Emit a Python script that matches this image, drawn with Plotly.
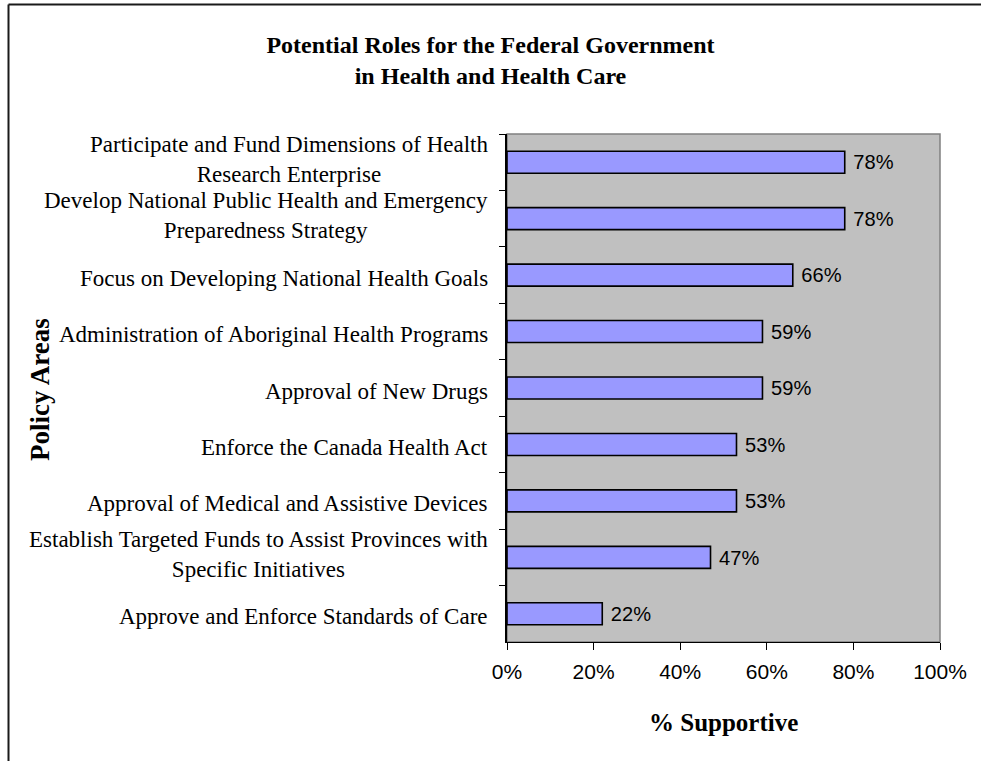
import plotly.graph_objects as go

# Survey results: share of respondents supportive of each federal role
categories = [
    "Participate and Fund Dimensions of Health<br>Research Enterprise",
    "Develop National Public Health and Emergency<br>Preparedness Strategy",
    "Focus on Developing National Health Goals",
    "Administration of Aboriginal Health Programs",
    "Approval of New Drugs",
    "Enforce the Canada Health Act",
    "Approval of Medical and Assistive Devices",
    "Establish Targeted Funds to Assist Provinces with<br>Specific Initiatives",
    "Approve and Enforce Standards of Care",
]
support_pct = [78, 78, 66, 59, 59, 53, 53, 47, 22]
x_ticks = [0, 20, 40, 60, 80, 100]
x_tick_labels = ["0%", "20%", "40%", "60%", "80%", "100%"]

W, H = 981, 761
L, R, T, B = 507, 41, 134, 119
pw, ph = W - L - R, H - T - B

SERIF = "Liberation Serif, Times New Roman, serif"
SANS = "Liberation Sans, Arial, sans-serif"

fig = go.Figure(
    go.Bar(
        x=support_pct,
        y=categories,
        orientation="h",
        marker=dict(color="#9999FF", line=dict(color="#000000", width=1.6)),
        width=0.39,
        texttemplate=" %{x}%",
        textposition="outside",
        textfont=dict(family=SANS, size=21, color="#000000"),
        cliponaxis=False,
        hoverinfo="skip",
    )
)

fig.update_layout(
    width=W,
    height=H,
    margin=dict(l=L, r=R, t=T, b=B, pad=0),
    paper_bgcolor="#FFFFFF",
    plot_bgcolor="#C0C0C0",
    showlegend=False,
    title=dict(
        text="<b>Potential Roles for the Federal Government<br>in Health and Health Care</b>",
        font=dict(family=SERIF, size=24, color="#000000"),
        x=0.5,
        xanchor="center",
        y=1 - 53 / H,
        yanchor="middle",
        yref="container",
    ),
)

fig.update_xaxes(
    range=[0, 100],
    tickvals=x_ticks,
    ticktext=x_tick_labels,
    ticks="outside",
    ticklen=7,
    tickcolor="#000000",
    ticklabelstandoff=4,
    tickfont=dict(family=SANS, size=21, color="#000000"),
    showgrid=False,
    zeroline=False,
    showline=True,
    linecolor="#000000",
    linewidth=1,
    fixedrange=True,
)

fig.update_yaxes(
    categoryorder="array",
    categoryarray=categories,
    autorange="reversed",
    tickson="boundaries",
    ticks="outside",
    ticklen=6,
    tickcolor="#000000",
    showticklabels=False,
    showgrid=False,
    zeroline=False,
    showline=True,
    linecolor="#000000",
    linewidth=1.5,
    fixedrange=True,
)

annotations = []
# Category labels: lines centred on each other, block right-aligned near the axis
for cat in categories:
    multi = "<br>" in cat
    annotations.append(dict(
        text=cat, xref="paper", yref="y", x=0, y=cat,
        xanchor="right", yanchor="middle", xshift=-17,
        yshift=3 if multi else -3,
        showarrow=False, align="center",
        font=dict(family=SERIF, size=23, color="#000000"),
    ))

# Axis titles
annotations.append(dict(
    text="<b>Policy Areas</b>", xref="paper", yref="paper",
    x=(40 - L) / pw, y=1 - (390 - T) / ph,
    xanchor="center", yanchor="middle", textangle=-90, showarrow=False,
    font=dict(family=SERIF, size=27, color="#000000"),
))
annotations.append(dict(
    text="<b>% Supportive</b>", xref="paper", yref="paper",
    x=0.5, y=-(722 - (T + ph)) / ph,
    xanchor="center", yanchor="middle", showarrow=False,
    font=dict(family=SERIF, size=25, color="#000000"),
))
fig.update_layout(annotations=annotations)

def px_x(p):
    return (p - L) / pw

def px_y(p):
    return 1 - (p - T) / ph

shapes = [
    # plot-area frame
    dict(type="rect", xref="paper", yref="paper", x0=0, x1=1, y0=0, y1=1,
         line=dict(color="#808080", width=1.5), layer="below"),
    # chart-area border (top and left edges)
    dict(type="line", xref="paper", yref="paper",
         x0=px_x(8.5), x1=px_x(W + 5), y0=px_y(4.5), y1=px_y(4.5),
         line=dict(color="#1a1a1a", width=2)),
    dict(type="line", xref="paper", yref="paper",
         x0=px_x(8.5), x1=px_x(8.5), y0=px_y(4.5), y1=px_y(H + 5),
         line=dict(color="#1a1a1a", width=2)),
]
fig.update_layout(shapes=shapes)

fig.write_html("out.html", config={"displayModeBar": False})
